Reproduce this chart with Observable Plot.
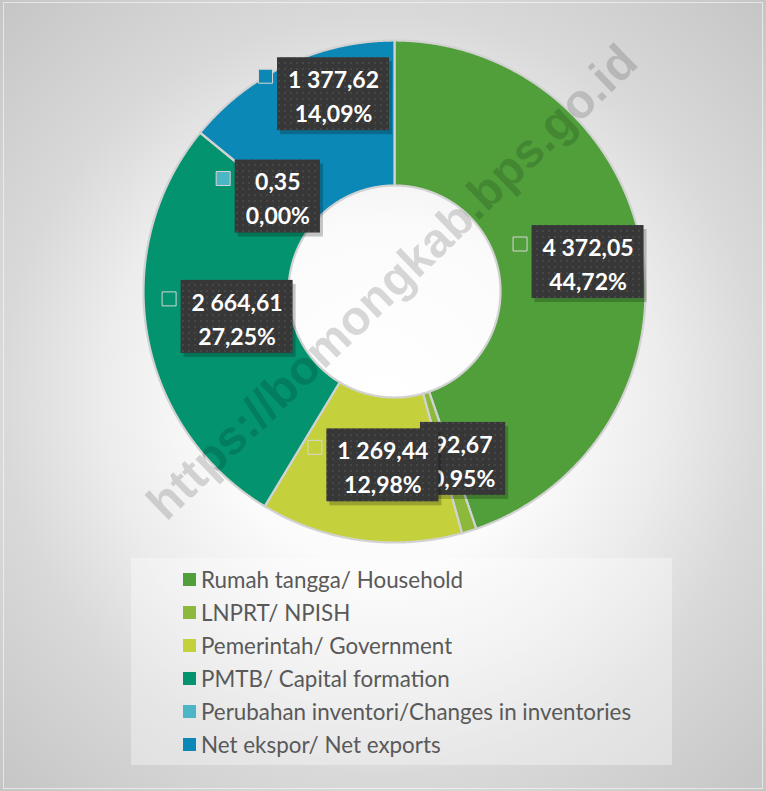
<!DOCTYPE html>
<html>
<head>
<meta charset="utf-8">
<script src="https://cdn.jsdelivr.net/npm/d3@7"></script>
<script src="https://cdn.jsdelivr.net/npm/@observablehq/plot@0.6"></script>
<style>
  html, body { margin: 0; padding: 0; }
  #wrap {
    position: relative; width: 766px; height: 791px; overflow: hidden;
    background: radial-gradient(circle at 383px 395px, #ffffff 0px, #fbfbfb 170px, #ececec 280px, #d9d9d9 380px, #c4c4c4 560px);
  }
  #frame { position: absolute; left: 3px; top: 2px; right: 3px; bottom: 2px; border: 1px solid rgba(255,255,255,0.55); }
  #chart { position: absolute; left: 0; top: 0; }
  #legendBox {
    position: absolute; left: 131px; top: 558px; width: 541px; height: 207px;
    background: rgba(255,255,255,0.35);
    box-sizing: border-box; padding-left: 52px; padding-top: 5px;
  }
  .lg-swatches { font-family: Lato, sans-serif; font-size: 22.4px; color: #595959; margin: 0 !important; }
  .lg-swatch { height: 33px; padding-bottom: 0 !important; }
  .lg-swatch > svg { margin-right: 5px !important; }
</style>
</head>
<body>
<div id="wrap">
  <div id="frame"></div>
  <div id="chart"></div>
  <div id="legendBox"></div>
</div>
<script>
// ---- data ----
const categories = [
  "Rumah tangga/ Household",
  "LNPRT/ NPISH",
  "Pemerintah/ Government",
  "PMTB/ Capital formation",
  "Perubahan inventori/Changes in inventories",
  "Net ekspor/ Net exports"
];
const values = [4372.05, 92.67, 1269.44, 2664.61, 0.35, 1377.62];
const percents = ["44,72%", "0,95%", "12,98%", "27,25%", "0,00%", "14,09%"];
const colors = ["#519f3b", "#8cb93b", "#c4d13c", "#03946f", "#4cb6c6", "#0b88b5"];
const watermark = ["https://bomongkab.bps.go.id"];

// ---- layout (not data) ----
const W = 766, H = 556, CX = 394, CY = 291, R_OUT = 251, R_IN = 106;
const labelNudge = [[8, 0], [6, -3], [3, -3], [9, -5], [12, 18], [6, -36]];
const FONT_SIZE = 23, PAD = 10.5, BOX_H = 73, LINE = 34, KEY = 14, GAP = 5;

const fmt = d3.formatLocale({decimal: ",", thousands: "\u00a0", grouping: [3], currency: ["", ""]}).format(",.2f");
const ctx = document.createElement("canvas").getContext("2d");
ctx.font = `bold ${FONT_SIZE}px Lato`;

const total = d3.sum(values);
let acc = 0;
const slices = values.map((v, i) => {
  const a0 = acc / total * 2 * Math.PI; acc += v;
  const a1 = acc / total * 2 * Math.PI;
  return {i, a0, a1, mid: (a0 + a1) / 2};
});

function arcPoints(a0, a1) {
  const n = Math.max(2, Math.ceil((a1 - a0) / 0.004));
  const pts = [];
  for (let k = 0; k <= n; k++) { const a = a0 + (a1 - a0) * k / n; pts.push({x: R_OUT * Math.sin(a), y: -R_OUT * Math.cos(a)}); }
  for (let k = n; k >= 0; k--) { const a = a0 + (a1 - a0) * k / n; pts.push({x: R_IN * Math.sin(a), y: -R_IN * Math.cos(a)}); }
  pts.push(pts[0]);
  return pts;
}

const rm = (R_OUT + R_IN) / 2;
const labels = slices.map((s, i) => {
  const gx = rm * Math.sin(s.mid) + labelNudge[i][0];
  const gy = -rm * Math.cos(s.mid) + labelNudge[i][1];
  const line1 = fmt(values[i]).replace(/\u00a0/g, " ");
  const line2 = percents[i];
  const tw = Math.max(ctx.measureText(line1).width, ctx.measureText(line2).width);
  const bw = tw + 2 * PAD;
  const gw = KEY + GAP + bw;
  const bx1 = gx - gw / 2 + KEY + GAP, bx2 = bx1 + bw;
  return {
    text: line1 + "\n" + line2, color: colors[i],
    bx1, bx2, bxm: (bx1 + bx2) / 2,
    by1: gy - BOX_H / 2, by2: gy + BOX_H / 2, by: gy,
    kx: bx1 - GAP - KEY / 2, ky: gy - LINE / 2 - 1
  };
});

const sliceMarks = slices.map(s => Plot.line(arcPoints(s.a0, s.a1), {
  x: "x", y: "y", fill: colors[s.i], stroke: "#d2d2d2", strokeWidth: 2.2, strokeLinejoin: "round"
}));

const labelMarks = labels.flatMap(d => [
  Plot.rect([d], {x1: "bx1", x2: "bx2", y1: "by1", y2: "by2", fill: "#000", fillOpacity: 0.22, dx: 3, dy: 4}),
  Plot.rect([d], {x1: "bx1", x2: "bx2", y1: "by1", y2: "by2", fill: "url(#dots)"}),
  Plot.dot([d], {x: "kx", y: "ky", symbol: "square", r: KEY / Math.sqrt(Math.PI), fill: d.color, stroke: "#d6d6d6", strokeWidth: 1}),
  Plot.text([d], {x: "bxm", y: "by", text: "text", fill: "white", fontSize: FONT_SIZE, fontWeight: "bold",
    fontFamily: "Lato", lineHeight: LINE / FONT_SIZE, lineAnchor: "middle"})
]);

const svg = Plot.plot({
  width: W, height: H, margin: 0,
  x: {domain: [-CX, W - CX], range: [0, W], axis: null},
  y: {domain: [-CY, H - CY], range: [0, H], axis: null},
  style: {background: "transparent", overflow: "visible"},
  marks: [
    ...sliceMarks,
    ...labelMarks,
    Plot.text(watermark, {text: d => d, frameAnchor: "middle", dx: 9, dy: 4, rotate: -44,
      fontSize: 48, fontWeight: "bold", fontFamily: "Liberation Sans", fill: "#000", fillOpacity: 0.15})
  ]
});
d3.select(svg).insert("defs", ":first-child").html(
  `<pattern id="dots" width="6" height="6" patternUnits="userSpaceOnUse">
     <rect width="6" height="6" fill="#373737"/><circle cx="3" cy="3" r="1" fill="#4b4b4b"/>
   </pattern>`);
document.getElementById("chart").appendChild(svg);

const leg = Plot.legend({
  legend: "swatches",
  color: {type: "ordinal", domain: categories, range: colors},
  columns: 1, swatchSize: 13, className: "lg"
});
document.getElementById("legendBox").appendChild(leg);
</script>
</body>
</html>
